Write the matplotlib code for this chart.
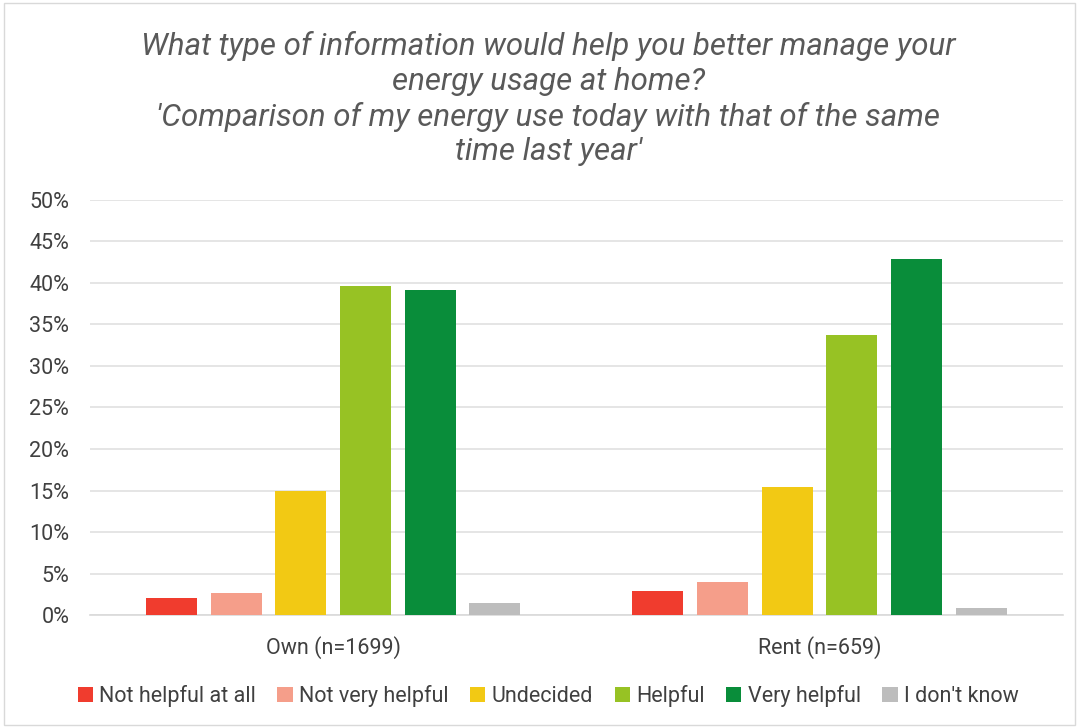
import matplotlib
matplotlib.use("Agg")
import matplotlib.pyplot as plt
from matplotlib.patches import Rectangle
import numpy as np

categories = ["Own (n=1699)", "Rent (n=659)"]
series_names = ["Not helpful at all", "Not very helpful", "Undecided", "Helpful", "Very helpful", "I don't know"]
own_values = [2.0, 2.7, 15.0, 39.6, 39.2, 1.4]
rent_values = [2.9, 4.0, 15.4, 33.7, 42.9, 0.8]
colors = ["#f03c2e", "#f59e8a", "#f2c914", "#97c224", "#098d3a", "#bdbdbd"]
yticks = [0, 5, 10, 15, 20, 25, 30, 35, 40, 45, 50]

plt.rcParams['font.family'] = ['Roboto', 'DejaVu Sans']

fig = plt.figure(figsize=(10.79, 7.27), dpi=100)
fig.patches.append(Rectangle((0.004, 0.003), 0.992, 0.993, transform=fig.transFigure,
                             fill=False, edgecolor="#d9d9d9", linewidth=1.0))
ax = fig.add_axes([0.0834, 0.154, 0.9016, 0.571])

x = np.arange(len(categories))
step = 0.133
width = 0.105
data = np.array([own_values, rent_values]).T
for i, (name, vals) in enumerate(zip(series_names, data)):
    offs = (i - (len(series_names) - 1) / 2) * step
    ax.bar(x + offs, vals, width=width, color=colors[i], label=name, zorder=3)

ax.set_xlim(-0.5, 1.5)
ax.set_ylim(0, 50)
ax.set_yticks(yticks)
ax.set_yticklabels([f"{t}%" for t in yticks], fontsize=15.5, color="#404040")
ax.set_xticks(x)
ax.set_xticklabels(categories, fontsize=15.5, color="#404040")
ax.tick_params(axis="both", length=0)
ax.tick_params(axis="y", pad=15)
ax.tick_params(axis="x", pad=15)
ax.grid(axis="y", color="#e0e0e0", linewidth=1.2, zorder=0)
for s in ["top", "right", "left"]:
    ax.spines[s].set_visible(False)
ax.spines["bottom"].set_color("#d9d9d9")
ax.spines["bottom"].set_linewidth(1.2)

fig.text(0.508, 0.957,
         "What type of information would help you better manage your\nenergy usage at home?\n'Comparison of my energy use today with that of the same\ntime last year'",
         ha="center", va="top", fontsize=22.5, style="italic", color="#595959", linespacing=1.24)

leg = fig.legend(loc="center", bbox_to_anchor=(0.508, 0.043), ncol=6, frameon=False,
                 fontsize=15.5, handlelength=0.7, handleheight=0.7, handletextpad=0.3,
                 columnspacing=1.0, labelcolor="#404040")

fig.savefig("out.png", dpi=100)
